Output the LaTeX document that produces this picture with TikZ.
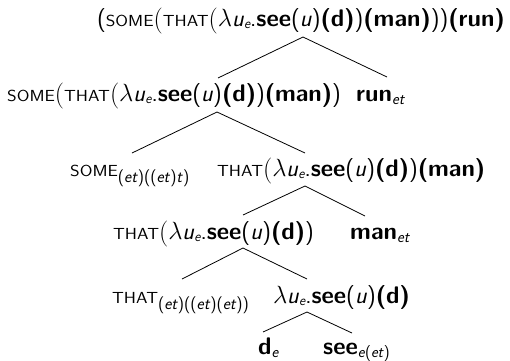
\documentclass[tikz,border=0pt]{standalone}
\usepackage{graphicx}
\renewcommand\familydefault{\sfdefault}
\newcommand\kw[1]{{\fontsize{16}{16}\selectfont\scalebox{1.15}[1]{#1}}}
\newcommand\bigp{\raisebox{-1pt}{\fontsize{26}{26}\selectfont\rmfamily(}}
\newcommand\sub[3][3pt]{\raisebox{-#1}{\fontsize{#2}{#2}\selectfont #3}}
\newcommand\ue{\textit{u}\raisebox{-2.5pt}{\fontsize{14}{14}\selectfont\itshape e}}
\newcommand\lamexp{$\lambda$\ue.\textbf{see}(\textit{u})\textbf{(d)}}
\begin{document}
\begin{tikzpicture}[x=1pt,y=-1pt,
  lbl/.style={inner sep=0pt, font=\fontsize{24}{28}\selectfont},
  edge/.style={line width=0.8pt}]
\useasboundingbox (0,0) rectangle (510,360);
\node[lbl, anchor=base east] (r) at (505,26) {(\kw{SOME}\bigp\kw{THAT}\bigp\lamexp)\textbf{(man)}))\textbf{(run)}};
\node[lbl, anchor=base west] (a) at (7,101) {\kw{SOME}\bigp\kw{THAT}\bigp\lamexp)\textbf{(man)})};
\node[lbl, anchor=base west] (b) at (356,101) {\textbf{run}\sub{16}{\textit{et}}};
\node[lbl, anchor=base west] (c) at (70,176) {\kw{SOME}\sub[6pt]{17}{(\textit{et})((\textit{et})\textit{t})}};
\node[lbl, anchor=base west] (d) at (217,176) {\kw{THAT}\bigp\lamexp)\textbf{(man)}};
\node[lbl, anchor=base west] (e) at (113,239) {\kw{THAT}\bigp\lamexp)};
\node[lbl, anchor=base west] (f) at (350,239) {\textbf{man}\sub{16}{\textit{et}}};
\node[lbl, anchor=base west] (g) at (112,303) {\kw{THAT}\sub[6pt]{17}{(\textit{et})((\textit{et})(\textit{et}))}};
\node[lbl, anchor=base east] (h) at (410,303) {\lamexp};
\node[lbl, anchor=base west] (i) at (258,354) {\textbf{d}\sub{16}{\textit{e}}};
\node[lbl, anchor=base west] (j) at (323,354) {\textbf{see}\sub{16}{\textit{e}(\textit{et})}};
\coordinate (r-x) at (303,37);
\coordinate (a-t) at (218,78);
\coordinate (b-t) at (387,77);
\coordinate (a-x) at (217,112);
\coordinate (c-t) at (132,153);
\coordinate (d-t) at (305,153);
\coordinate (d-x) at (305,186);
\coordinate (e-t) at (243,215);
\coordinate (f-t) at (365,216);
\coordinate (e-x) at (243,248);
\coordinate (g-t) at (182,279);
\coordinate (h-t) at (307,279);
\coordinate (h-x) at (307,312);
\coordinate (i-t) at (263,332);
\coordinate (j-t) at (352,333);
\draw[edge] (a-t) -- (r-x) -- (b-t);
\draw[edge] (c-t) -- (a-x) -- (d-t);
\draw[edge] (e-t) -- (d-x) -- (f-t);
\draw[edge] (g-t) -- (e-x) -- (h-t);
\draw[edge] (i-t) -- (h-x) -- (j-t);
\end{tikzpicture}
\end{document}
